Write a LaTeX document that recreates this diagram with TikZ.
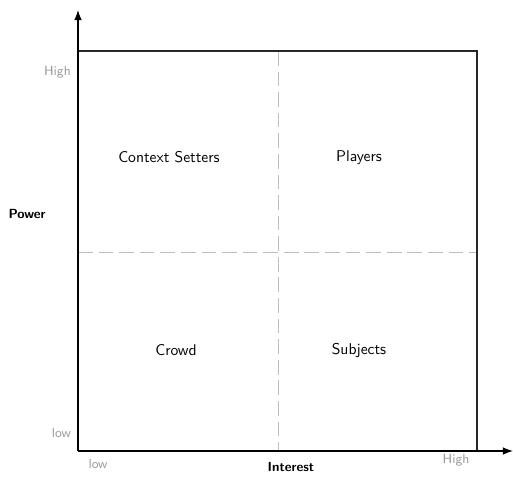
\documentclass[tikz,border=0pt]{standalone}
\usepackage{tikz}
\usetikzlibrary{positioning,arrows.meta}
\definecolor{pmgrey}{HTML}{9A9A9A}
\definecolor{pmdash}{HTML}{BDBDBD}

\begin{document}
\begin{tikzpicture}[
  x=0.68pt, y=-0.68pt,
  axis/.style={-{Latex[length=2.4mm,width=1.8mm]}, line width=0.8pt, draw=black},
  frame/.style={line width=0.8pt, draw=black!85},
  split/.style={dash pattern=on 10pt off 4pt, line width=0.6pt, draw=pmdash},
  tick/.style={font=\sffamily\small, text=pmgrey},
  quad/.style={font=\sffamily\fontsize{10.6}{12}\selectfont, align=center},
  title/.style={font=\sffamily\bfseries\small}
]
\useasboundingbox (0,0) rectangle (513,478);
% corners of the grid
\coordinate (o) at (78,451);
\coordinate (ytop) at (78,10);
\coordinate (xend) at (513,451);
\coordinate (tl) at (78,51);
\coordinate (tr) at (477,51);
\coordinate (br) at (477,451);
\coordinate (mt) at (278,51);
\coordinate (mb) at (278,451);
\coordinate (ml) at (78,252);
\coordinate (mr) at (477,252);
% quadrant splits
\draw[split] (mt) -- (mb);
\draw[split] (ml) -- (mr);
% frame and axes
\draw[frame] (tl) -- (tr) -- (br);
\draw[axis] (o) -- (ytop);
\draw[axis] (o) -- (xend);
% quadrant names
\node[quad] (ctx) at (169,157) {Context Setters};
\node[quad] (ply) at (359,158) {Players};
\node[quad] (crd) at (176,350) {Crowd};
\node[quad] (sbj) at (359,351) {Subjects};
% axis labels
\node[tick, anchor=east] (yhigh) at (76,72) {High};
\node[tick, anchor=east] (ylow) at (76,433) {low};
\node[tick] (xlow) at (98,464) {low};
\node[tick] (xhigh) at (456,460) {High};
\node[title] (pow) at (27,214) {Power};
\node[title] (int) at (291,467) {Interest};
\end{tikzpicture}
\end{document}
